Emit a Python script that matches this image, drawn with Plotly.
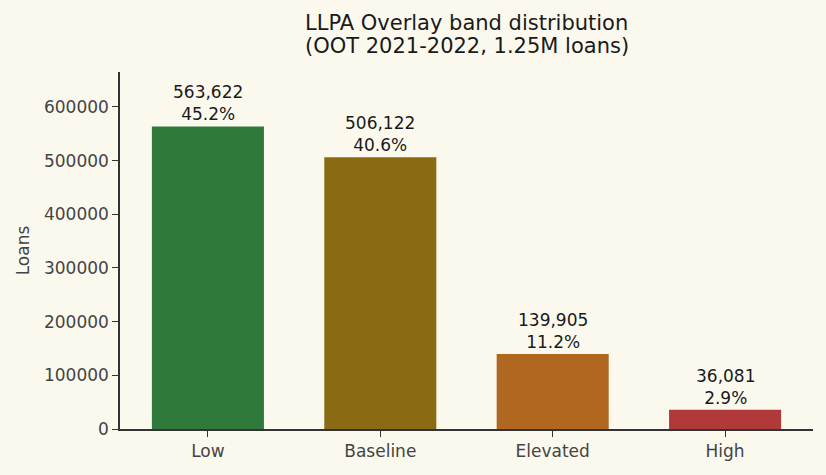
import plotly.graph_objects as go

bands = ['Low', 'Baseline', 'Elevated', 'High']
loans = [563622, 506122, 139905, 36081]
shares = [45.2, 40.6, 11.2, 2.9]
bar_colors = ['#2f7a3b', '#8a6a12', '#b06820', '#b03a3a']
title_lines = ['LLPA Overlay band distribution', '(OOT 2021-2022, 1.25M loans)']

bg = '#fbf9ee'
font = 'DejaVu Sans'

fig = go.Figure()
fig.add_trace(go.Bar(
    x=list(range(len(bands))), y=loans, width=0.65,
    marker=dict(color=bar_colors, line=dict(width=0)),
    hoverinfo='skip', showlegend=False
))

# count + share labels above each bar
for i, (n, p) in enumerate(zip(loans, shares)):
    fig.add_annotation(x=i, y=n, text=f'{n:,}<br>{p:.1f}%',
                       showarrow=False, yanchor='bottom', yshift=0,
                       font=dict(family=font, size=17, color='#1a1a1a'))

# title, one annotation per line so the line spacing is tight like the original
for line, shift in zip(title_lines, [49, 26]):
    fig.add_annotation(xref='paper', yref='paper', x=0.5, y=1, yshift=shift,
                       xanchor='center', yanchor='middle', showarrow=False,
                       text=line, font=dict(family=font, size=21, color='#1a1a1a'))

fig.update_xaxes(range=[-0.51, 3.51], tickvals=list(range(len(bands))), ticktext=bands,
                 showline=True, linecolor='#333333', linewidth=1.5,
                 ticks='outside', ticklen=6, tickcolor='#333333',
                 tickfont=dict(family=font, size=17, color='#444444'),
                 showgrid=False, zeroline=False)
fig.update_yaxes(range=[0, 665000], tickvals=[0, 100000, 200000, 300000, 400000, 500000, 600000],
                 tickformat='d', showline=True, linecolor='#333333', linewidth=1.5,
                 ticks='outside', ticklen=6, tickcolor='#333333',
                 tickfont=dict(family=font, size=17, color='#444444'),
                 title=dict(text='Loans', font=dict(family=font, size=17, color='#444444'), standoff=10),
                 showgrid=False, zeroline=False)

fig.update_layout(
    width=826, height=475,
    paper_bgcolor=bg, plot_bgcolor=bg,
    margin=dict(l=120, r=13, t=72, b=46),
    bargap=0.35
)

fig.write_html("out.html", config={'displayModeBar': False},
               post_script="document.body.style.margin='0';")
